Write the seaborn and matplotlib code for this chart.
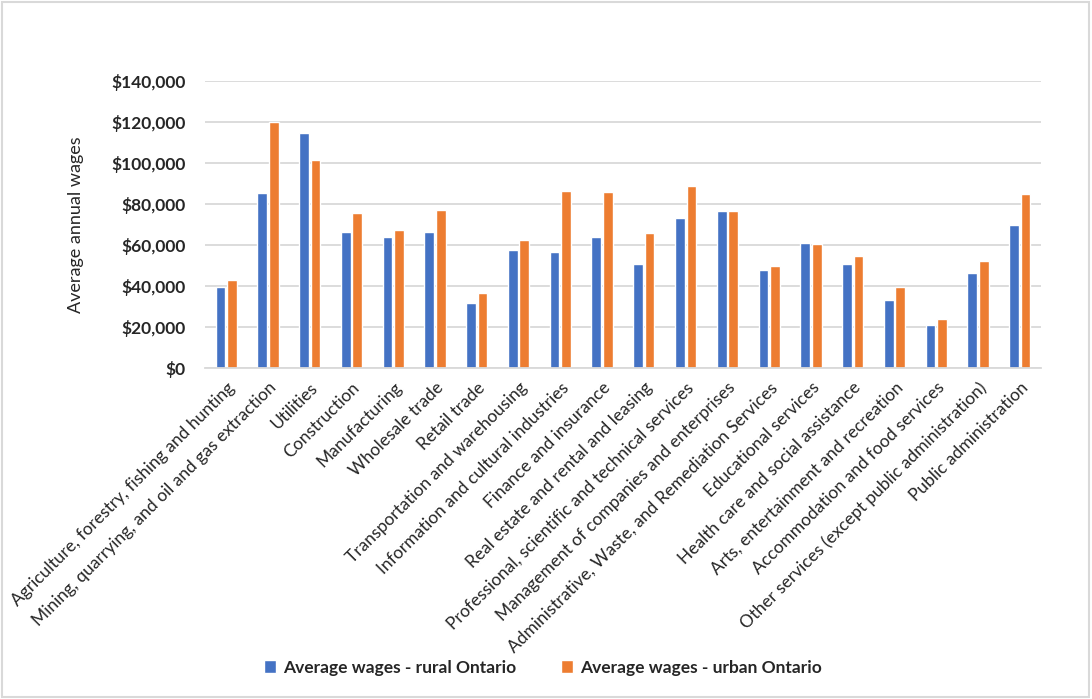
"""Average annual wages by industry, rural vs urban Ontario."""
import numpy as np
import pandas as pd
import seaborn as sns
import matplotlib.pyplot as plt
from matplotlib.patches import Rectangle
from matplotlib.ticker import FuncFormatter

industries = [
    'Agriculture, forestry, fishing and hunting',
    'Mining, quarrying, and oil and gas extraction',
    'Utilities',
    'Construction',
    'Manufacturing',
    'Wholesale trade',
    'Retail trade',
    'Transportation and warehousing',
    'Information and cultural industries',
    'Finance and insurance',
    'Real estate and rental and leasing',
    'Professional, scientific and technical services',
    'Management of companies and enterprises',
    'Administrative, Waste, and Remediation Services',
    'Educational services',
    'Health care and social assistance',
    'Arts, entertainment and recreation',
    'Accommodation and food services',
    'Other services (except public administration)',
    'Public administration',
]
rural = [39500, 85400, 114800, 66300, 63900, 66300, 31700, 57600, 56600, 64000,
         50700, 73200, 76600, 47800, 61000, 50700, 33200, 21000, 46300, 69800]
urban = [43000, 120000, 101500, 75600, 67300, 77000, 36600, 62400, 86300, 85900,
         65900, 88800, 76600, 49800, 60500, 54600, 39500, 23900, 52200, 84900]
series = ['Average wages - rural Ontario', 'Average wages - urban Ontario']

df = pd.DataFrame({
    'industry': industries * 2,
    'wage': rural + urban,
    'series': [series[0]] * len(industries) + [series[1]] * len(industries),
})

sns.set_style('white')
plt.rcParams['font.family'] = ['Lato', 'DejaVu Sans']

fig = plt.figure(figsize=(10.92, 6.99), dpi=100)
ax = fig.add_axes([0.188, 0.473, 0.765, 0.411])

sns.barplot(data=df, x='industry', y='wage', hue='series',
            palette=['#4472C4', '#ED7D31'], width=0.55, gap=0.15,
            saturation=1, ax=ax, legend=True)

ax.set_ylim(0, 140000)
ax.set_yticks(np.arange(0, 140001, 20000))
ax.yaxis.set_major_formatter(FuncFormatter(lambda v, _: f'${v:,.0f}'))
ax.yaxis.grid(True, color='#d9d9d9', linewidth=1.3)
ax.set_axisbelow(True)
ax.set_xlim(-0.5, len(industries) - 0.5)
for s in ['top', 'right', 'left']:
    ax.spines[s].set_visible(False)
ax.spines['bottom'].set_color('#d9d9d9')
ax.spines['bottom'].set_linewidth(1.3)
ax.tick_params(axis='both', length=0)
for lab in ax.get_yticklabels():
    lab.set_fontsize(12.5)
    lab.set_fontweight('bold')
ax.tick_params(axis='y', pad=14)
plt.setp(ax.get_xticklabels(), rotation=45, ha='right', rotation_mode='anchor',
         fontsize=12.5)
ax.tick_params(axis='x', pad=8)
ax.set_xlabel('')
ax.set_ylabel('Average annual wages', fontsize=13, labelpad=20)

handles, labels = ax.get_legend_handles_labels()
ax.legend_.remove()
fig.legend(handles, labels, loc='center', bbox_to_anchor=(0.497, 0.045), ncol=2,
           frameon=False, prop={'size': 12.5, 'weight': 'bold'},
           handlelength=0.7, handleheight=0.7, handletextpad=0.4,
           columnspacing=2.6)

fig.patches.append(Rectangle((0.002, 0.003), 0.995, 0.994, transform=fig.transFigure,
                             fill=False, edgecolor='#d9d9d9', linewidth=1.5))

fig.savefig('out.png', dpi=100)
